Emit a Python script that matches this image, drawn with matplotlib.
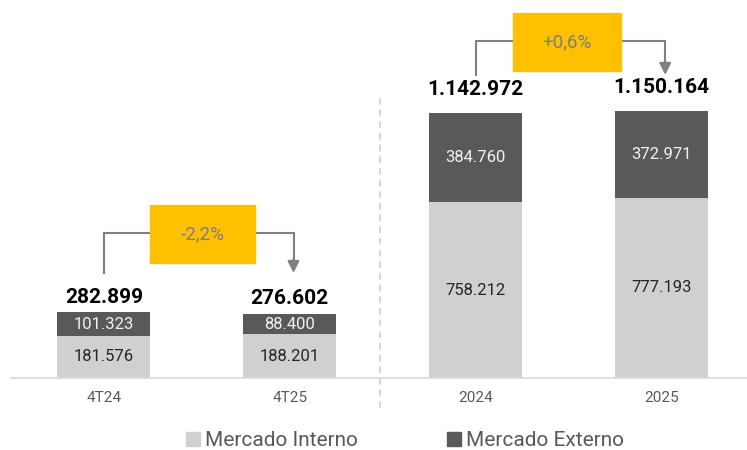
import matplotlib.pyplot as plt
from matplotlib.lines import Line2D
from matplotlib.patches import Rectangle

plt.rcParams['font.family'] = ['Roboto', 'DejaVu Sans']

# dados
periodos = ['4T24', '4T25', '2024', '2025']
mercado_interno = [181576, 188201, 758212, 777193]
mercado_externo = [101323, 88400, 384760, 372971]
totais = [282899, 276602, 1142972, 1150164]

cor_interno = '#d0d0d0'
cor_externo = '#595959'
cor_caixa = '#ffc000'
cor_seta = '#808080'


def fmt(v):
    return f'{v:,}'.replace(',', '.')


def fmt_pct(a, b):
    p = (b / a - 1) * 100
    return f'{p:+.1f}%'.replace('.', ',')


fig = plt.figure(figsize=(7.47, 4.5), dpi=100)
ax = fig.add_axes([11 / 747, 72 / 450, 736 / 747, 378 / 450])

x = range(len(periodos))
b1 = ax.bar(x, mercado_interno, width=0.5, color=cor_interno)
b2 = ax.bar(x, mercado_externo, width=0.5, bottom=mercado_interno, color=cor_externo)

for i in x:
    ax.text(i, mercado_interno[i] / 2, fmt(mercado_interno[i]), ha='center', va='center',
            fontsize=12, color='#262626')
    ax.text(i, mercado_interno[i] + mercado_externo[i] / 2, fmt(mercado_externo[i]),
            ha='center', va='center', fontsize=12, color='#f2f2f2')
    ax.annotate(fmt(totais[i]), (i, totais[i]), xytext=(0, 4 if i < 2 else 10),
                textcoords='offset points', ha='center', va='bottom',
                fontsize=15, fontweight='bold', color='black')

ax.set_xlim(-0.5, 3.46)
ax.set_ylim(0, 1630000)

# separador tracejado
ax.plot([1.485, 1.485], [-130000, 1220000], ls=(0, (4, 3)), color='#d0d0d0', lw=1.2,
        clip_on=False)


# setas de variação
def variacao(i, j, y_linha, y_fim, caixa_x, caixa_y):
    ax.plot([i, i, j + 0.02, j + 0.02], [y_fim, y_linha, y_linha, y_fim + 45000],
            color=cor_seta, lw=1.5, solid_joinstyle='miter')
    ax.annotate('', xy=(j + 0.02, y_fim), xytext=(j + 0.02, y_fim + 60000),
                arrowprops=dict(arrowstyle='-|>,head_width=0.35,head_length=0.7',
                                color=cor_seta, lw=1.5, shrinkA=0, shrinkB=0))
    ax.add_patch(Rectangle((caixa_x[0], caixa_y[0]), caixa_x[1] - caixa_x[0],
                           caixa_y[1] - caixa_y[0], color=cor_caixa, zorder=3))
    ax.text((caixa_x[0] + caixa_x[1]) / 2, (caixa_y[0] + caixa_y[1]) / 2,
            fmt_pct(totais[i], totais[j]), ha='center', va='center', fontsize=13.5,
            color='#7f7f7f', zorder=4)


variacao(0, 1, 625000, 453000, (0.248, 0.813), (496000, 746000))
variacao(2, 3, 1453000, 1307000, (2.2, 2.78), (1324000, 1574000))

ax.set_xticks(list(x))
ax.set_xticklabels(periodos, fontsize=11, color='#595959')
ax.tick_params(axis='x', length=0, pad=9)
ax.set_yticks([])
for s in ['top', 'right', 'left']:
    ax.spines[s].set_visible(False)
ax.spines['bottom'].set_color('#d9d9d9')
ax.spines['bottom'].set_linewidth(1.2)

handles = [Line2D([], [], marker='s', ls='', color=cor_interno, markersize=10),
           Line2D([], [], marker='s', ls='', color=cor_externo, markersize=10)]
fig.legend(handles, ['Mercado Interno', 'Mercado Externo'], loc='center',
           bbox_to_anchor=(0.54, 0.02), ncol=2, frameon=False, fontsize=15,
           labelcolor='#595959', handletextpad=0.1, columnspacing=4.1, handlelength=1.0,
           borderpad=0.2)

fig.savefig('out.png', dpi=100)
